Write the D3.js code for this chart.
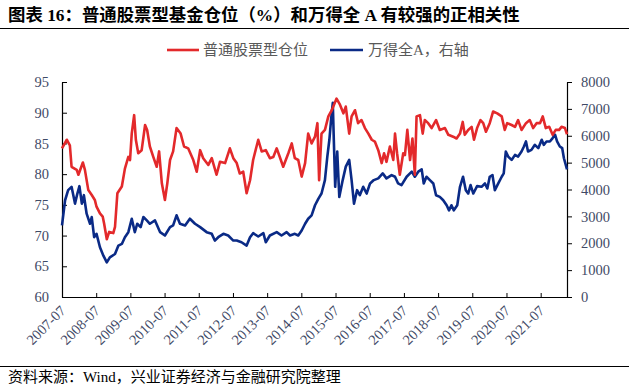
<!DOCTYPE html>
<html><head><meta charset="utf-8">
<script src="https://cdn.jsdelivr.net/npm/d3@7/dist/d3.min.js"></script>
<style>body{margin:0;background:#fff}svg{display:block}</style>
</head><body><svg id="c" width="629" height="392"></svg>
<script>
// ---------- data ----------
const titleText = "图表 16：普通股票型基金仓位（%）和万得全 A 有较强的正相关性";
const sourceText = "资料来源：Wind，兴业证券经济与金融研究院整理";
const seriesNames = ["普通股票型仓位", "万得全A，右轴"];
const xTickLabels = ["2007-07","2008-07","2009-07","2010-07","2011-07","2012-07","2013-07","2014-07","2015-07","2016-07","2017-07","2018-07","2019-07","2020-07","2021-07"];
const leftTicks = [60,65,70,75,80,85,90,95];
const rightTicks = [0,1000,2000,3000,4000,5000,6000,7000,8000];

// 普通股票型基金仓位 (%), time in decimal years
const redYears = [2007.50,2007.64,2007.73,2007.78,2007.93,2007.98,2008.11,2008.17,2008.27,2008.37,2008.46,2008.51,2008.61,2008.69,2008.73,2008.81,2008.88,2009.00,2009.05,2009.12,2009.25,2009.34,2009.44,2009.49,2009.54,2009.61,2009.66,2009.73,2009.83,2009.93,2009.99,2010.07,2010.17,2010.27,2010.34,2010.42,2010.51,2010.58,2010.66,2010.75,2010.85,2010.97,2011.07,2011.19,2011.34,2011.44,2011.54,2011.63,2011.78,2011.88,2012.02,2012.12,2012.27,2012.41,2012.51,2012.61,2012.70,2012.80,2012.90,2013.00,2013.09,2013.24,2013.34,2013.46,2013.58,2013.68,2013.78,2013.87,2013.97,2014.12,2014.22,2014.31,2014.41,2014.51,2014.61,2014.70,2014.80,2014.90,2014.97,2015.02,2015.09,2015.19,2015.29,2015.39,2015.53,2015.63,2015.73,2015.80,2015.90,2015.97,2016.07,2016.16,2016.26,2016.36,2016.46,2016.56,2016.65,2016.75,2016.85,2016.92,2016.99,2017.09,2017.19,2017.24,2017.30,2017.38,2017.48,2017.53,2017.60,2017.68,2017.75,2017.82,2017.87,2017.97,2018.05,2018.11,2018.21,2018.31,2018.44,2018.55,2018.70,2018.80,2018.94,2019.04,2019.14,2019.22,2019.28,2019.38,2019.48,2019.55,2019.64,2019.74,2019.82,2019.90,2020.01,2020.11,2020.23,2020.36,2020.45,2020.52,2020.65,2020.75,2020.84,2020.94,2021.07,2021.18,2021.28,2021.38,2021.48,2021.56,2021.65,2021.75,2021.85,2021.94,2022.04,2022.11,2022.21,2022.27];
const redValues = [84.2,85.6,84.7,81.2,80.7,79.9,81.9,80.7,77.4,76.6,75.8,74.7,73.6,73.1,72.0,69.4,70.6,70.4,71.4,76.9,78.0,80.9,82.8,82.3,86.6,89.6,85.6,83.4,83.9,88.0,87.2,84.5,82.8,81.2,83.7,78.5,75.8,78.5,82.3,83.7,87.5,86.6,84.5,84.2,82.3,80.4,83.9,82.6,81.5,82.6,79.9,82.0,81.8,84.2,82.6,81.8,80.1,80.4,76.9,79.0,82.3,85.6,83.7,83.9,82.6,82.8,84.2,82.8,81.2,83.4,85.0,82.6,82.3,79.6,81.8,86.6,85.0,86.1,88.3,79.0,86.6,87.2,89.4,90.4,92.3,91.3,89.9,91.0,86.6,89.4,90.4,88.3,88.8,87.5,86.6,85.6,85.3,83.9,81.8,83.4,82.0,84.5,82.3,86.6,83.4,79.9,83.4,83.1,87.2,82.3,85.8,79.9,89.4,89.6,86.6,88.8,88.3,87.5,88.8,87.2,87.5,86.4,86.1,85.8,86.6,88.5,86.4,87.2,87.7,85.6,87.5,88.8,88.3,86.9,88.3,90.2,89.9,89.4,87.2,88.3,88.0,87.7,88.8,87.2,88.3,88.8,87.5,88.3,88.3,89.4,87.5,87.7,86.4,87.2,87.2,87.7,87.5,86.5];

// 万得全A (right axis)
const blueYears = [2007.50,2007.59,2007.68,2007.78,2007.88,2007.95,2008.01,2008.08,2008.14,2008.22,2008.32,2008.37,2008.44,2008.51,2008.61,2008.71,2008.81,2008.90,2009.05,2009.15,2009.25,2009.34,2009.44,2009.54,2009.63,2009.70,2009.80,2009.88,2009.98,2010.07,2010.22,2010.37,2010.51,2010.66,2010.75,2010.85,2010.95,2011.10,2011.24,2011.39,2011.54,2011.73,2011.88,2011.97,2012.07,2012.22,2012.36,2012.51,2012.61,2012.75,2012.90,2013.00,2013.09,2013.24,2013.39,2013.46,2013.58,2013.78,2013.92,2014.07,2014.17,2014.31,2014.41,2014.51,2014.61,2014.70,2014.80,2014.90,2015.00,2015.09,2015.19,2015.26,2015.32,2015.37,2015.42,2015.45,2015.49,2015.55,2015.61,2015.71,2015.80,2015.90,2015.97,2016.04,2016.13,2016.21,2016.31,2016.41,2016.51,2016.62,2016.75,2016.88,2016.99,2017.14,2017.24,2017.33,2017.43,2017.58,2017.73,2017.82,2017.92,2018.02,2018.08,2018.16,2018.26,2018.36,2018.44,2018.55,2018.65,2018.75,2018.82,2018.89,2018.96,2019.06,2019.14,2019.23,2019.31,2019.38,2019.45,2019.53,2019.64,2019.77,2019.87,2019.94,2020.01,2020.09,2020.16,2020.26,2020.36,2020.42,2020.48,2020.55,2020.65,2020.75,2020.84,2020.94,2021.01,2021.07,2021.13,2021.23,2021.33,2021.43,2021.53,2021.59,2021.67,2021.77,2021.85,2021.92,2021.98,2022.06,2022.13,2022.18,2022.27];
const blueValues = [2663,3600,3975,4100,3475,3850,4125,3475,3788,3100,2725,2975,2225,2350,1850,1538,1288,1475,1600,1913,1975,2225,2413,2913,2413,2725,2600,2975,2850,2725,2850,2413,2288,2600,2663,3038,2725,2663,2913,2725,2600,2413,2350,2100,2225,2350,2288,2100,2100,2038,1913,2225,2375,2250,2375,2038,2288,2413,2288,2413,2288,2350,2288,2475,2725,2913,3038,3413,3663,3850,4350,5225,5850,6600,7225,5850,4100,5413,3725,4350,4850,5100,4350,3475,3975,3788,4100,3850,4225,4350,4413,4600,4413,4538,4475,4225,4163,4475,4663,4475,4663,4750,4225,4475,4350,4225,3788,3725,3600,3413,3225,3413,3225,3413,4100,4475,3975,3850,4163,3850,4125,4100,4225,4038,4475,4538,3975,4225,4475,4600,5413,5225,5100,5288,5225,5413,5600,5788,5413,5475,5663,5538,5850,5663,5788,5788,5913,6038,5788,5600,5538,5163,4750];

// ---------- drawing ----------
const svg = d3.select("#c");
const FONT = "'Liberation Serif','Times New Roman','Noto Sans CJK SC',serif";
const CJK = "'Liberation Serif','Noto Sans CJK SC',sans-serif";
const tickColor = "#3f4a66";

svg.append("text").attr("x", 8).attr("y", 21)
  .attr("font-family", CJK).attr("font-weight", "bold").attr("font-size", 17.4)
  .attr("fill", "#000").text(titleText);
svg.append("line").attr("x1", 0).attr("x2", 629).attr("y1", 28.5).attr("y2", 28.5)
  .attr("stroke", "#000").attr("stroke-width", 1.2);
svg.append("line").attr("x1", 0).attr("x2", 629).attr("y1", 366.5).attr("y2", 366.5)
  .attr("stroke", "#000").attr("stroke-width", 1.2);
svg.append("text").attr("x", 8).attr("y", 382)
  .attr("font-family", CJK).attr("font-size", 15).attr("fill", "#000").text(sourceText);

const x = d3.scaleLinear().domain([2007.5, 2022.27]).range([62, 567]);
const yL = d3.scaleLinear().domain([60, 95]).range([297, 82]);
const yR = d3.scaleLinear().domain([0, 8000]).range([297, 82]);

// axes
const gL = svg.append("g").attr("transform", "translate(62,0)")
  .call(d3.axisLeft(yL).tickValues(leftTicks).tickSizeInner(-5).tickSizeOuter(0).tickPadding(13));
const gR = svg.append("g").attr("transform", "translate(567,0)")
  .call(d3.axisRight(yR).tickValues(rightTicks).tickFormat(d3.format("d")).tickSizeInner(5).tickSizeOuter(0).tickPadding(9));
const xTickVals = xTickLabels.map((d, i) => 2007.5 + i);
const gB = svg.append("g").attr("transform", "translate(0,297)")
  .call(d3.axisBottom(x).tickValues(xTickVals).tickSizeInner(-4).tickSizeOuter(0).tickFormat(""));
[gL, gR, gB].forEach(g => {
  g.select(".domain").attr("stroke", "#000").attr("stroke-width", 1.2);
  g.selectAll(".tick line").attr("stroke", "#000").attr("stroke-width", 1);
  g.selectAll(".tick text").attr("font-family", FONT).attr("font-size", 14.5).attr("fill", tickColor);
});
gB.select(".tick").remove();

svg.append("g").selectAll("text").data(xTickLabels).join("text")
  .attr("transform", (d, i) => `translate(${x(xTickVals[i]) + 1},${308}) rotate(-45)`)
  .attr("text-anchor", "end").attr("dy", "0.35em")
  .attr("font-family", FONT).attr("font-size", 14.5).attr("fill", tickColor)
  .text(d => d);

// lines
const blueData = blueYears.map((t, i) => [t, blueValues[i]]);
const redData = redYears.map((t, i) => [t, redValues[i]]);
svg.append("path").datum(blueData)
  .attr("d", d3.line().x(d => x(d[0])).y(d => yR(d[1])))
  .attr("fill", "none").attr("stroke", "#0a2a86").attr("stroke-width", 2.6)
  .attr("stroke-linejoin", "round");
svg.append("path").datum(redData)
  .attr("d", d3.line().x(d => x(d[0])).y(d => yL(d[1])))
  .attr("fill", "none").attr("stroke", "#e3292b").attr("stroke-width", 2.6)
  .attr("stroke-linejoin", "round");

// legend
const legend = [
  {name: seriesNames[0], color: "#e3292b", x1: 167, x2: 199, tx: 203},
  {name: seriesNames[1], color: "#0a2a86", x1: 330, x2: 363, tx: 368}
];
const lg = svg.append("g");
legend.forEach(l => {
  lg.append("line").attr("x1", l.x1).attr("x2", l.x2).attr("y1", 50).attr("y2", 50)
    .attr("stroke", l.color).attr("stroke-width", 2.6);
  lg.append("text").attr("x", l.tx).attr("y", 50).attr("dy", "0.35em")
    .attr("font-family", CJK).attr("font-size", 15).attr("fill", "#595959").text(l.name);
});
</script></body></html>
